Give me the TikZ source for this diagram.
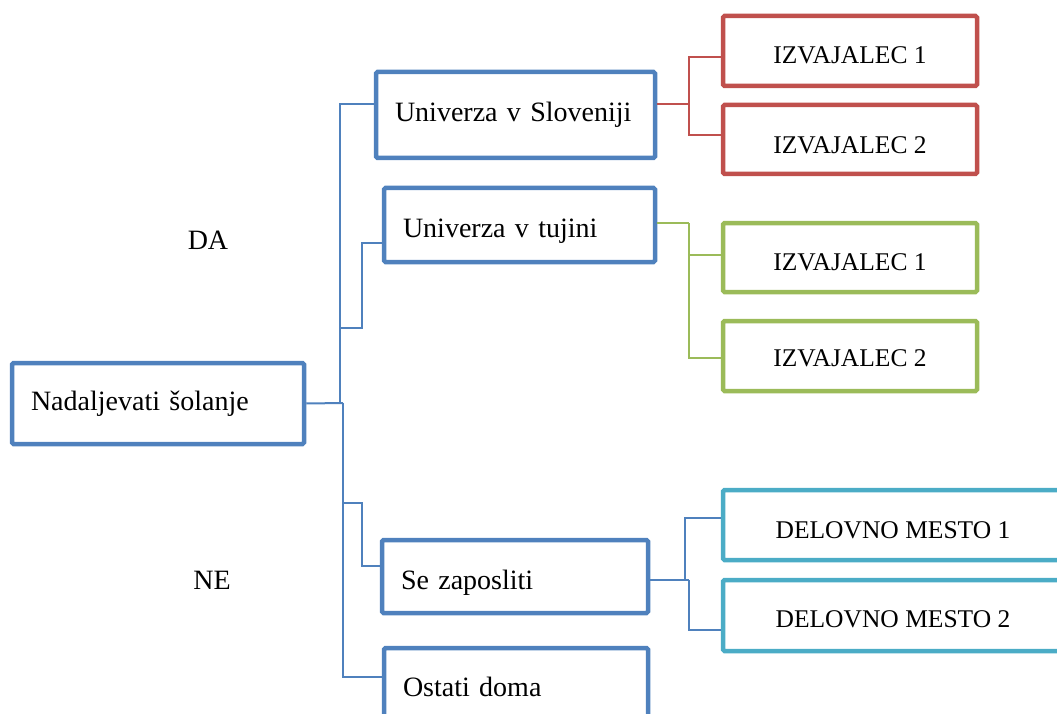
\documentclass[tikz,border=0pt]{standalone}
\usepackage{fontspec}
\setmainfont{Liberation Serif}
\usepackage{tikz}
\definecolor{tblue}{RGB}{79,129,189}
\definecolor{tred}{RGB}{192,80,77}
\definecolor{tgreen}{RGB}{155,187,89}
\definecolor{tcyan}{RGB}{75,172,198}
\tikzstyle{bb}=[shape=rectangle,
                draw=tblue,
                line width=4.5pt,
                rounded corners=1.5pt,
                inner xsep=19pt,
                text depth=6pt,
                align=left,
                font=\fontsize{28}{32}\selectfont]
\tikzstyle{sb}=[shape=rectangle,
                line width=4.5pt,
                rounded corners=1.5pt,
                minimum width=254pt,
                minimum height=70pt,
                text depth=5.5pt,
                font=\fontsize{25.5}{30}\selectfont]
\tikzstyle{lbl}=[font=\fontsize{28}{32}\selectfont]
\tikzstyle{bline}=[draw=tblue,line width=2pt]
\tikzstyle{rline}=[draw=tred,line width=2pt]
\tikzstyle{gline}=[draw=tgreen,line width=2pt]

\begin{document}
\begin{tikzpicture}[x=1pt,y=-1pt]
\useasboundingbox (0,0) rectangle (1057,714);
\clip (0,0) rectangle (1057,714);

% main boxes
\node[bb,text width=254pt,minimum height=81pt,text height=19pt] (root) at (158,403.5) {Nadaljevati šolanje};
\node[bb,text width=241pt,minimum height=86pt,text height=19.5pt] (slo) at (515.5,115) {Univerza v Sloveniji};
\node[bb,text width=233pt,minimum height=74pt,text height=31.5pt] (tuj) at (519.5,225) {Univerza v tujini};
\node[bb,text width=228pt,minimum height=73pt,text height=31.5pt] (zap) at (515,576.5) {Se zaposliti};
\node[bb,text width=226pt,minimum height=80pt,text height=23.5pt] (ost) at (516,688) {Ostati doma};

% side labels
\node[lbl] (da) at (208,240) {DA};
\node[lbl] (ne) at (212,580) {NE};

% providers
\node[sb,draw=tred,text height=31.5pt] (r1) at (850,51) {IZVAJALEC 1};
\node[sb,draw=tred,minimum height=69pt,text height=33pt] (r2) at (850,139.5) {IZVAJALEC 2};
\node[sb,draw=tgreen,minimum height=69pt,text height=30.5pt] (g1) at (850,257.5) {IZVAJALEC 1};
\node[sb,draw=tgreen,text height=27pt] (g2) at (850,356) {IZVAJALEC 2};
\node[sb,draw=tcyan,minimum width=340pt,text height=32pt] (c1) at (893,525) {DELOVNO MESTO 1};
\node[sb,draw=tcyan,minimum width=340pt,minimum height=71pt,text height=30pt] (c2) at (893,615.5) {DELOVNO MESTO 2};

% junctions
\coordinate (jup) at (340,403);
\coordinate (jdn) at (343,403);
\coordinate (ktuj) at (362,328);
\coordinate (kzap) at (362,503);
\coordinate (kslo) at (689,104);
\coordinate (ktj) at (689,223);
\coordinate (kza) at (685,580);
\coordinate (kzb) at (689,580);

% paths
\draw[bline] (root.east) -- (jdn);
\draw[bline] (jup) |- ([yshift=11pt]slo.west);
\draw[bline] (jup |- ktuj) -- (ktuj) |- ([yshift=-18pt]tuj.west);
\draw[bline] (jdn |- kzap) -- (kzap) |- ([yshift=10.5pt]zap.west);
\draw[bline] (jdn) |- ([yshift=11pt]ost.west);

\draw[rline] ([yshift=11pt]slo.east) -- (kslo);
\draw[rline] (kslo) |- ([yshift=-6pt]r1.west);
\draw[rline] (kslo) |- ([yshift=4.5pt]r2.west);

\draw[gline] ([yshift=2pt]tuj.east) -- (ktj);
\draw[gline] (ktj) |- ([yshift=2.5pt]g1.west);
\draw[gline] (ktj) |- ([yshift=-2pt]g2.west);

\draw[bline] ([yshift=-3.5pt]zap.east) -- (kzb);
\draw[bline] (kza) |- ([yshift=7pt]c1.west);
\draw[bline] (kzb) |- ([yshift=-14.5pt]c2.west);

\end{tikzpicture}
\end{document}
